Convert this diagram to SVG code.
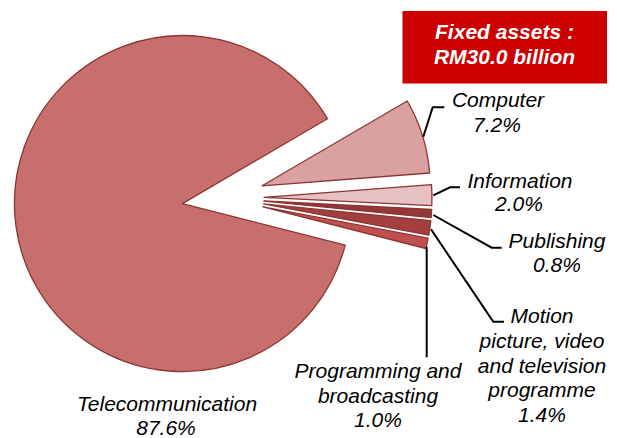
<svg xmlns="http://www.w3.org/2000/svg" width="617" height="438" viewBox="0 0 617 438">
<style>
.slice{stroke:#8c3535;stroke-width:1.3;stroke-linejoin:round}
.lbl{font-family:"Liberation Sans",Arial,sans-serif;font-style:italic;font-size:21px;fill:#000;text-anchor:middle}
.lead{fill:none;stroke:#000;stroke-width:2}
.title{font-family:"Liberation Sans",Arial,sans-serif;font-style:italic;font-weight:bold;font-size:21px;fill:#fff;text-anchor:middle}
</style>
<rect width="617" height="438" fill="#fff"/>
<g id="box">
<rect x="402.5" y="11" width="204.5" height="72.5" fill="#cc0000"/>
<text class="title" x="504.5" y="38.5">Fixed assets :</text>
<text class="title" x="504.5" y="63.5">RM30.0 billion</text>
</g>
<g id="telecommunication">
<path class="slice" fill="#c76f6d" d="M182.4,203.6 L345.2,245.2 A168,168 0 1 1 327.5,118.8 Z"/>
<text class="lbl" x="167" y="410.5">Telecommunication</text>
<text class="lbl" x="166" y="434.5">87.6%</text>
</g>
<g id="computer">
<path class="slice" fill="#d9a1a1" d="M262.1,185.8 L407.2,101 A168,168 0 0 1 429.6,173 Z"/>
<text class="lbl" x="498" y="107">Computer</text>
<text class="lbl" x="497" y="132">7.2%</text>
</g>
<g id="information">
<path class="slice" fill="#e5c1c1" d="M264,197.4 L431.5,184.6 A168,168 0 0 1 431.8,205.7 Z"/>
<text class="lbl" x="520" y="187.5">Information</text>
<text class="lbl" x="519" y="211">2.0%</text>
</g>
<g id="publishing">
<path class="slice" fill="#943737" d="M263.9,201 L431.7,209.3 A168,168 0 0 1 431.1,217.7 Z"/>
<text class="lbl" x="557" y="248">Publishing</text>
<text class="lbl" x="557" y="272">0.8%</text>
</g>
<g id="motion">
<path class="slice" fill="#a43f3f" d="M263.6,203.9 L430.8,220.6 A168,168 0 0 1 428.7,235.2 Z"/>
<text class="lbl" x="542" y="323.3">Motion</text>
<text class="lbl" x="542" y="348.3">picture, video</text>
<text class="lbl" x="542" y="373">and television</text>
<text class="lbl" x="542" y="397">programme</text>
<text class="lbl" x="542" y="421.5">1.4%</text>
</g>
<g id="programming">
<path class="slice" fill="#c0504d" d="M263,206.9 L428.1,238.2 A168,168 0 0 1 425.8,248.5 Z"/>
<text class="lbl" x="378" y="378.3">Programming and</text>
<text class="lbl" x="378" y="403">broadcasting</text>
<text class="lbl" x="378" y="427">1.0%</text>
</g>
<g id="connectors">
<polyline class="lead" points="423.3,136.7 432.7,107.3 444.3,107.3"/>
<polyline class="lead" points="433.3,195.3 450,187.3 460,187.3"/>
<polyline class="lead" points="433.3,215 491.7,247.7 501.7,247.7"/>
<polyline class="lead" points="431,229.3 493.3,321.7 504,321.7"/>
<polyline class="lead" points="426.7,246.7 426.7,357.3"/>
</g>
</svg>
